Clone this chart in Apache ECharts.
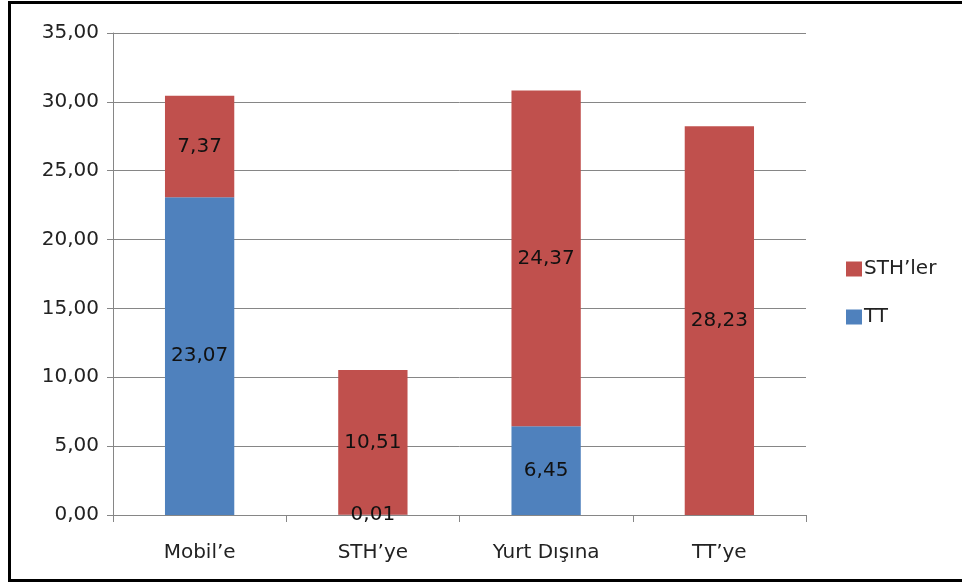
<!DOCTYPE html>
<html><head><meta charset="utf-8">
<script src="https://cdn.jsdelivr.net/npm/echarts@6/dist/echarts.min.js"></script>
<style>
html,body{margin:0;padding:0;background:#fff;overflow:hidden;width:962px;height:583px}
.ln{position:absolute;background:#000}
#c{position:absolute;left:0;top:0;width:962px;height:583px}
</style></head>
<body>
<div id="c"></div>
<div class="ln" style="left:8px;top:1px;width:980px;height:3px"></div>
<div class="ln" style="left:8px;top:1px;width:3px;height:581px"></div>
<div class="ln" style="left:8px;top:579px;width:980px;height:3px"></div>
<script>
var categories = ["Mobil\u2019e", "STH\u2019ye", "Yurt D\u0131\u015f\u0131na", "TT\u2019ye"];
var ttValues = [23.07, 0.01, 6.45, null];
var sthValues = [7.37, 10.51, 24.37, 28.23];
var yTicks = { min: 0, max: 35, interval: 5 };

var fmt = function (v) { return v.toFixed(2).replace('.', ','); };
var font = '"DejaVu Sans", Verdana, sans-serif';
var fs = 20;
var chart = echarts.init(document.getElementById('c'));
chart.setOption({
  animation: false,
  textStyle: { fontFamily: font },
  grid: { left: 113, right: 156, top: 33, bottom: 68 },
  legend: {
    orient: 'vertical', left: 846, top: 259, padding: 0,
    itemWidth: 16, itemHeight: 15, itemGap: 28, icon: 'rect',
    textStyle: { fontSize: fs, color: '#222', fontFamily: font, padding: [0, 0, 0, -3] },
    data: ["STH\u2019ler", "TT"]
  },
  xAxis: {
    type: 'category', data: categories,
    axisLine: { lineStyle: { color: '#868686', width: 1 } },
    axisTick: { show: true, length: 7, lineStyle: { color: '#868686' } },
    axisLabel: { fontSize: fs, color: '#222', margin: 28, fontFamily: font }
  },
  yAxis: {
    type: 'value', min: yTicks.min, max: yTicks.max, interval: yTicks.interval,
    axisLine: { show: true, lineStyle: { color: '#868686' } },
    axisTick: { show: true, length: 6, lineStyle: { color: '#868686' } },
    splitLine: { lineStyle: { color: '#868686' } },
    axisLabel: { fontSize: fs, color: '#222', margin: 14, formatter: fmt, fontFamily: font }
  },
  series: [
    {
      name: 'TT', type: 'bar', stack: 's', barWidth: '40%',
      itemStyle: { color: '#4F81BD' },
      label: { show: true, position: 'inside', fontSize: fs, color: '#111', fontFamily: font,
        formatter: function (p) { return p.value == null ? '' : fmt(p.value); } },
      data: ttValues
    },
    {
      name: "STH\u2019ler", type: 'bar', stack: 's', barWidth: '40%',
      itemStyle: { color: '#C0504D' },
      label: { show: true, position: 'inside', fontSize: fs, color: '#111', fontFamily: font,
        formatter: function (p) { return fmt(p.value); } },
      data: sthValues
    }
  ]
});
</script>
</body></html>
